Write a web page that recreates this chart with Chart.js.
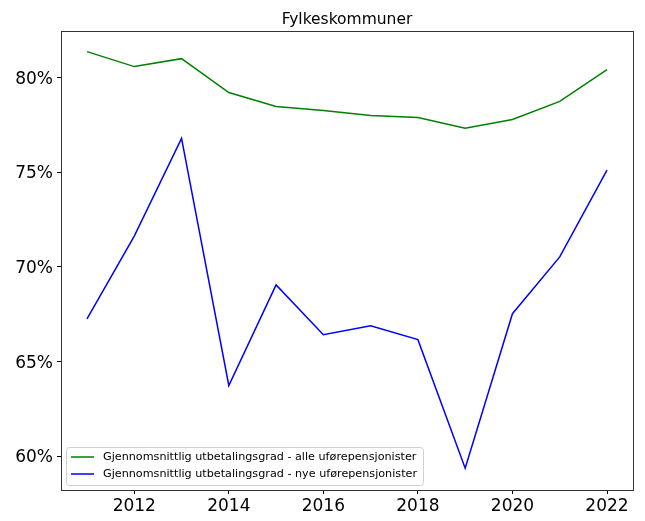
<!DOCTYPE html>
<html>
<head>
<meta charset="utf-8">
<script src="https://cdn.jsdelivr.net/npm/chart.js@4"></script>
<style>
  html, body { margin: 0; padding: 0; background: #fff; }
  #wrap { width: 645px; height: 521px; }
</style>
</head>
<body>
<div id="wrap"><canvas id="lineChart" width="645" height="521"></canvas></div>
<script>
// Data
const years = [2011, 2012, 2013, 2014, 2015, 2016, 2017, 2018, 2019, 2020, 2021, 2022];
const alleValues = [81.37, 80.58, 81.0, 79.21, 78.47, 78.26, 78.0, 77.89, 77.32, 77.79, 78.74, 80.42];
const nyeValues = [67.26, 71.63, 76.79, 63.74, 69.05, 66.42, 66.89, 66.16, 59.37, 67.53, 70.53, 75.11];
const xTicks = [2012, 2014, 2016, 2018, 2020, 2022];
const yTicks = [60, 65, 70, 75, 80];
const seriesLabels = [
    'Gjennomsnittlig utbetalingsgrad - alle uførepensjonister',
    'Gjennomsnittlig utbetalingsgrad - nye uførepensjonister'
];
const titleText = 'Fylkeskommuner';

const FONT = "'DejaVu Sans', sans-serif";

function toPoints(values) {
    return years.map((y, i) => ({ x: y, y: values[i] }));
}

// Frame, title and legend drawn matplotlib-style
const framePlugin = {
    id: 'frame',
    afterDraw(chart) {
        const ctx = chart.ctx;
        const a = chart.chartArea;
        ctx.save();
        ctx.strokeStyle = '#333';
        ctx.lineWidth = 1;
        ctx.strokeRect(Math.round(a.left) + 0.5, Math.round(a.top) + 0.5,
            Math.round(a.right - a.left), Math.round(a.bottom - a.top));

        // title
        ctx.fillStyle = '#000';
        ctx.font = '15.5px ' + FONT;
        ctx.textAlign = 'center';
        ctx.textBaseline = 'alphabetic';
        ctx.fillText(titleText, (a.left + a.right) / 2, a.top - 7);

        // legend inside lower left
        const bx = a.left + 5, by = a.bottom - 43, bw = 357, bh = 38;
        ctx.fillStyle = 'rgba(255,255,255,0.8)';
        ctx.strokeStyle = '#d0d0d0';
        ctx.lineWidth = 1;
        ctx.beginPath();
        ctx.roundRect(bx + 0.5, by + 0.5, bw, bh, 3);
        ctx.fill();
        ctx.stroke();
        ctx.font = '11.2px ' + FONT;
        ctx.textAlign = 'left';
        ctx.textBaseline = 'middle';
        chart.data.datasets.forEach((ds, i) => {
            const ly = by + 10 + i * 17;
            ctx.strokeStyle = ds.borderColor;
            ctx.lineWidth = 1.5;
            ctx.beginPath();
            ctx.moveTo(bx + 5, ly);
            ctx.lineTo(bx + 28, ly);
            ctx.stroke();
            ctx.fillStyle = '#000';
            ctx.fillText(seriesLabels[i], bx + 37, ly);
        });
        ctx.restore();
    }
};

const ctx = document.getElementById('lineChart').getContext('2d');
const lineChart = new Chart(ctx, {
    type: 'line',
    data: {
        datasets: [
            {
                label: seriesLabels[0],
                data: toPoints(alleValues),
                borderColor: '#008000',
                borderWidth: 1.5,
                pointRadius: 0,
                tension: 0,
                fill: false
            },
            {
                label: seriesLabels[1],
                data: toPoints(nyeValues),
                borderColor: '#0000ff',
                borderWidth: 1.5,
                pointRadius: 0,
                tension: 0,
                fill: false
            }
        ]
    },
    options: {
        responsive: false,
        animation: false,
        layout: { padding: { top: 31, right: 12, left: 0, bottom: 0 } },
        plugins: {
            legend: { display: false },
            tooltip: { enabled: false }
        },
        scales: {
            x: {
                type: 'linear',
                min: 2010.45,
                max: 2022.55,
                afterBuildTicks: function(axis) {
                    axis.ticks = xTicks.map(v => ({ value: v }));
                },
                afterFit: function(axis) { axis.height = 31; },
                border: { display: false },
                grid: {
                    drawOnChartArea: false,
                    drawTicks: true,
                    tickLength: 4,
                    color: '#000'
                },
                ticks: {
                    color: '#000',
                    font: { family: FONT, size: 17 },
                    padding: 2,
                    maxRotation: 0,
                    callback: function(value) { return String(value); }
                }
            },
            y: {
                min: 58.22,
                max: 82.46,
                afterBuildTicks: function(axis) {
                    axis.ticks = yTicks.map(v => ({ value: v }));
                },
                afterFit: function(axis) { axis.width = 61; },
                border: { display: false },
                grid: {
                    drawOnChartArea: false,
                    drawTicks: true,
                    tickLength: 4,
                    color: '#000'
                },
                ticks: {
                    color: '#000',
                    font: { family: FONT, size: 17 },
                    padding: 4,
                    labelOffset: 1.5,
                    callback: function(value) { return value + '%'; }
                }
            }
        }
    },
    plugins: [framePlugin]
});
</script>
</body>
</html>
